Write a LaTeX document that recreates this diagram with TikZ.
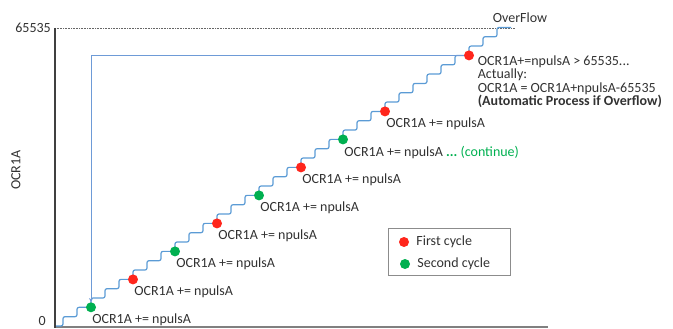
\documentclass[tikz,border=0pt]{standalone}
\usepackage{fontspec}
\setmainfont{Carlito}
\usetikzlibrary{positioning,arrows.meta}

\definecolor{stairblue}{RGB}{91,155,213}
\definecolor{linkblue}{RGB}{110,155,215}
\definecolor{dotred}{RGB}{255,38,28}
\definecolor{dotgreen}{RGB}{0,176,80}
\definecolor{txtgray}{RGB}{50,50,50}

\tikzstyle{arrow} = [linkblue,line width=0.9pt,-{Stealth[length=4pt,width=4pt]}]
\tikzstyle{stair} = [stairblue,line width=1.2pt,rounded corners=2pt]
\tikzstyle{dotr} = [circle,fill=dotred,inner sep=0pt,minimum size=10pt]
\tikzstyle{dotg} = [circle,fill=dotgreen,inner sep=0pt,minimum size=10pt]
\tikzstyle{lbl} = [inner sep=1pt,text=txtgray,font=\fontsize{14}{13.5}\selectfont]

\begin{document}
\begin{tikzpicture}[x=1pt,y=-1pt,node distance=2pt]
\useasboundingbox (0,0) rectangle (673,329);

% axes
\draw [gray!80!black,densely dotted,line width=0.6pt] (55,28) -- (515,28);
\draw [gray,line width=1.4pt] (55,327) -- (548,327);
\draw [black!75,line width=2pt] (55,28) -- (55,328);
\node (ymax) [lbl,anchor=east] at (52,28) {65535};
\node (ymin) [lbl,anchor=east] at (47,321) {0};
\node (ylab) [lbl,rotate=90] at (16,170) {OCR1A};

% staircase
\draw [stair] (56,326) -- (63,326)
  \foreach \i in {1,...,32} { -- ++(0,-9.33) -- ++(14,0) };
\node (ovf) [lbl,anchor=south] at (520,24) {OverFlow};

% compare points
\node (g1) [dotg] at (91,307.3) {};
\node (r1) [dotr] at (133,279.4) {};
\node (g2) [dotg] at (175,251.4) {};
\node (r2) [dotr] at (217,223.4) {};
\node (g3) [dotg] at (259,195.4) {};
\node (r3) [dotr] at (301,167.4) {};
\node (g4) [dotg] at (343,139.4) {};
\node (r4) [dotr] at (385,111.4) {};
\node (r5) [dotr] at (469,55.4) {};

\node (lg1) [lbl,below right=1.5pt and -3.5pt of g1] {OCR1A += npulsA};
\node (lr1) [lbl,below right=1.5pt and -3.5pt of r1] {OCR1A += npulsA};
\node (lg2) [lbl,below right=1.5pt and -3.5pt of g2] {OCR1A += npulsA};
\node (lr2) [lbl,below right=1.5pt and -3.5pt of r2] {OCR1A += npulsA};
\node (lg3) [lbl,below right=1.5pt and -3.5pt of g3] {OCR1A += npulsA};
\node (lr3) [lbl,below right=1.5pt and -3.5pt of r3] {OCR1A += npulsA};
\node (lg4) [lbl,below right=1.5pt and -3.5pt of g4] {OCR1A += npulsA \textcolor{dotgreen}{\textbf{...}\ (continue)}};
\node (lr4) [lbl,below right=1.5pt and -3.5pt of r4] {OCR1A += npulsA};
\node (lr5) [lbl,align=left,below right=-4.5pt and 4pt of r5] {OCR1A+=npulsA > 65535...\\Actually:\\OCR1A = OCR1A+npulsA-65535\\\textbf{(Automatic Process if Overflow)}};

% wrap back
\draw [arrow] (r5.west) -| (g1.north);

% legend
\node (leg) [draw=gray!90,line width=0.7pt,minimum width=122pt,minimum height=47pt] at (449,251.5) {};
\node (legr) [dotr] at (404,242) {};
\node (legg) [dotg] at (405,264) {};
\node (legrt) [lbl,right=6pt of legr] {First cycle};
\node (leggt) [lbl,right=6pt of legg] {Second cycle};

\end{tikzpicture}
\end{document}
